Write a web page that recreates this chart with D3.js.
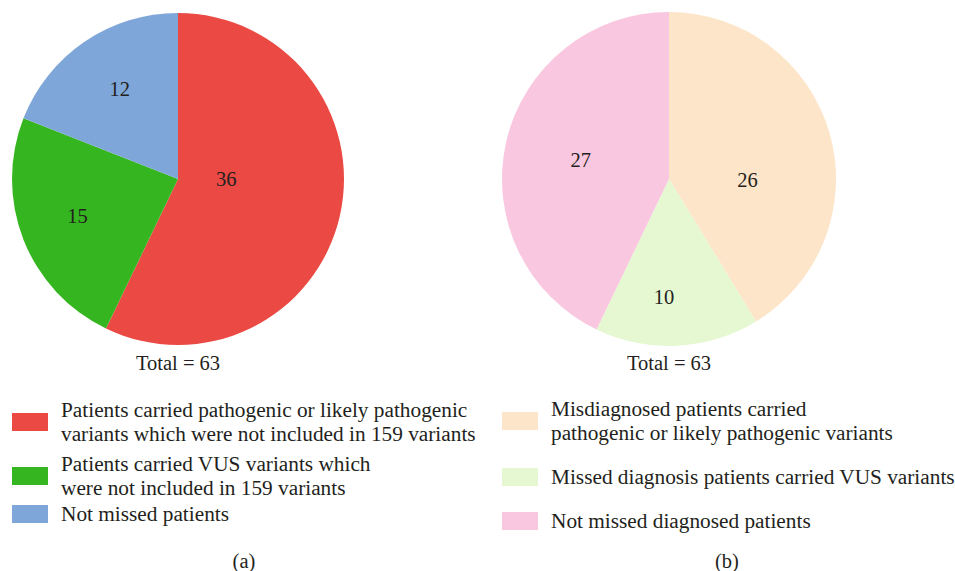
<!DOCTYPE html>
<html><head><meta charset="utf-8">
<script src="https://cdn.jsdelivr.net/npm/d3@7"></script>
<style>
html,body{margin:0;padding:0;background:#fff;}
svg text{font-family:"Liberation Serif","Times New Roman",serif;fill:#231f20;}
</style></head>
<body>
<svg id="chart" width="955" height="571"></svg>
<script>
// ---- data ----
const categoriesA = [
  "Patients carried pathogenic or likely pathogenic|variants which were not included in 159 variants",
  "Patients carried VUS variants which|were not included in 159 variants",
  "Not missed patients"
];
const valuesA = [36, 15, 12];
const colorsA = ["#ea4a43", "#35b51f", "#7ea6d8"];

const categoriesB = [
  "Misdiagnosed patients carried|pathogenic or likely pathogenic variants",
  "Missed diagnosis patients carried VUS variants",
  "Not missed diagnosed patients"
];
const valuesB = [26, 10, 27];
const colorsB = ["#fde5c9", "#e5f8d2", "#f9c8e0"];

const totals = ["Total = 63", "Total = 63"];
const panelTags = ["(a)", "(b)"];

// label placement (polar: angle in degrees clockwise from 12 o'clock, radius fraction)
const labelPolarA = [[90, 0.29], [250, 0.645], [327, 0.645]];
const labelPolarB = [[90.5, 0.47], [182.5, 0.705], [282, 0.54]];

const svg = d3.select("#chart");
const FS = 20.5, LFS = 21.3;

function drawPanel(cfg) {
  const g = svg.append("g").attr("transform", `translate(${cfg.cx},${cfg.cy})`);
  const pie = d3.pie().sort(null).value(d => d)
    .startAngle(0).endAngle(2 * Math.PI);
  const arcs = pie(cfg.values);
  const arc = d3.arc().innerRadius(0).outerRadius(cfg.r);
  g.selectAll("path").data(arcs).join("path")
    .attr("d", arc).attr("fill", (d, i) => cfg.colors[i]);
  g.selectAll("text.val").data(arcs).join("text")
    .attr("class", "val")
    .attr("x", (d, i) => Math.sin(cfg.labelPolar[i][0] * Math.PI / 180) * cfg.labelPolar[i][1] * cfg.r)
    .attr("y", (d, i) => -Math.cos(cfg.labelPolar[i][0] * Math.PI / 180) * cfg.labelPolar[i][1] * cfg.r)
    .attr("text-anchor", "middle").attr("dominant-baseline", "central")
    .attr("font-size", FS)
    .text(d => d.data);
  svg.append("text").attr("x", cfg.cx).attr("y", 370)
    .attr("text-anchor", "middle").attr("font-size", FS).text(cfg.total);

  // legend
  const lg = svg.append("g");
  cfg.categories.forEach((c, i) => {
    const lines = c.split("|");
    const yc = cfg.legendY[i];
    lg.append("rect").attr("x", cfg.lx).attr("y", yc - 9).attr("width", 36).attr("height", 18)
      .attr("fill", cfg.colors[i]);
    const startY = yc - (lines.length - 1) * 24 / 2;
    lines.forEach((ln, j) => {
      lg.append("text").attr("x", cfg.lx + 49).attr("y", startY + j * 24)
        .attr("dominant-baseline", "central").attr("font-size", LFS).text(ln);
    });
  });
  svg.append("text").attr("x", cfg.tagX).attr("y", 561)
    .attr("text-anchor", "middle").attr("dominant-baseline", "central")
    .attr("font-size", FS).text(cfg.tag);
}

drawPanel({cx: 178, cy: 179, r: 166, values: valuesA, colors: colorsA, labelPolar: labelPolarA,
  total: totals[0], categories: categoriesA, lx: 12, legendY: [422, 476, 514], tag: panelTags[0], tagX: 244});
drawPanel({cx: 669, cy: 179, r: 167, values: valuesB, colors: colorsB, labelPolar: labelPolarB,
  total: totals[1], categories: categoriesB, lx: 502, legendY: [421, 477, 521], tag: panelTags[1], tagX: 727});
</script>
</body></html>
